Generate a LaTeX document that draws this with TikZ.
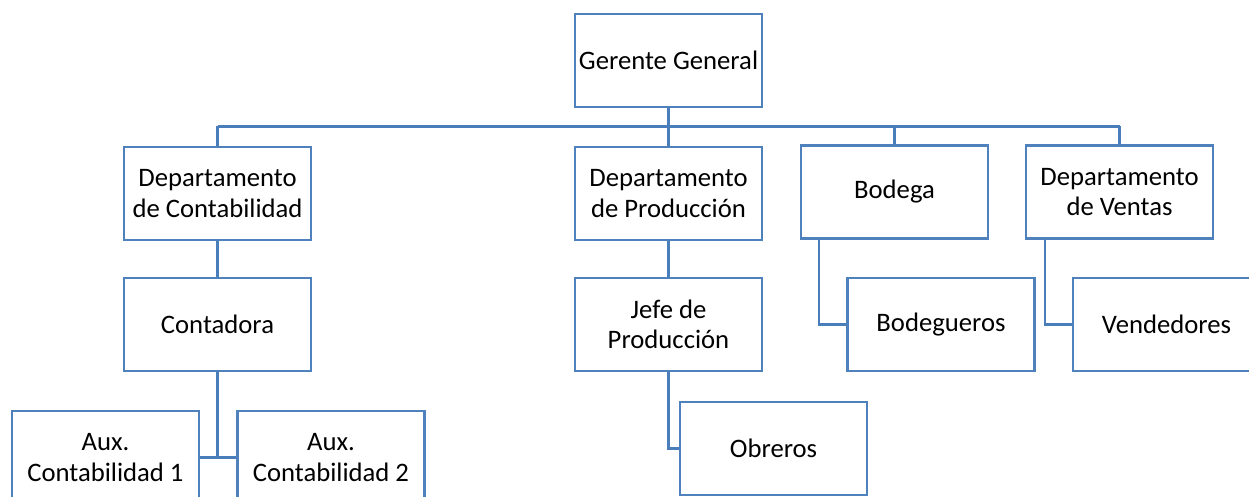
\documentclass[tikz,border=0pt]{standalone}
\usepackage{fontspec}
\setmainfont{Carlito}
\definecolor{boxblue}{RGB}{79,129,189}
\definecolor{lineblue}{RGB}{74,126,187}
\tikzset{
  puesto/.style={draw=boxblue, line width=1.1pt, fill=white, inner sep=0pt,
    minimum width=83.4pt, minimum height=41.5pt, align=center,
    font=\fontsize{11.9}{13.5}\selectfont},
  enlace/.style={draw=lineblue, line width=1.1pt}
}
\begin{document}
\begin{tikzpicture}[x=0.446pt, y=-0.446pt]
      \useasboundingbox (0,0) rectangle (1249,497);
      \clip (0,0) rectangle (1249,497);

      \coordinate (bus) at (0,126.5);

      \node[puesto] (gerente) at (668.5,60.5) {Gerente General};

      \node[puesto] (contab) at (217.5,193.5) {Departamento\\de Contabilidad};
      \node[puesto] (produc) at (668.5,193.5) {Departamento\\de Producción};
      \node[puesto] (bodega) at (894.5,192) {Bodega};
      \node[puesto] (ventas) at (1119.5,192) {Departamento\\de Ventas};

      \node[puesto] (contadora) at (217.5,324.5) {Contadora};
      \node[puesto] (jefe) at (668.5,324.5) {Jefe de\\Producción};
      \node[puesto] (bodegueros) at (941,324.5) {Bodegueros};
      \node[puesto] (vendedores) at (1166.5,324.5) {Vendedores};

      \node[puesto] (obreros) at (773.5,448.5) {Obreros};
      \node[puesto] (aux1) at (105.5,457.5) {Aux.\\Contabilidad 1};
      \node[puesto] (aux2) at (331,457.5) {Aux.\\Contabilidad 2};

      \draw[enlace] (gerente.south) -- (gerente |- bus);
      \draw[enlace] (contab |- bus) -- (ventas |- bus);
      \draw[enlace] (contab.north) -- (contab |- bus);
      \draw[enlace] (produc.north) -- (produc |- bus);
      \draw[enlace] (bodega.north) -- (bodega |- bus);
      \draw[enlace] (ventas.north) -- (ventas |- bus);

      \draw[enlace] (contab.south) -- (contadora.north);
      \draw[enlace] (produc.south) -- (jefe.north);
      \draw[enlace] ([xshift=8.5pt]bodega.south west) |- (bodegueros.west);
      \draw[enlace] ([xshift=8.9pt]ventas.south west) |- (vendedores.west);
      \draw[enlace] (jefe.south) |- (obreros.west);
      \draw[enlace] (contadora.south) -- (contadora.south |- aux1.east);
      \draw[enlace] (aux1.east) -- (aux2.west);
    \end{tikzpicture}
\end{document}
